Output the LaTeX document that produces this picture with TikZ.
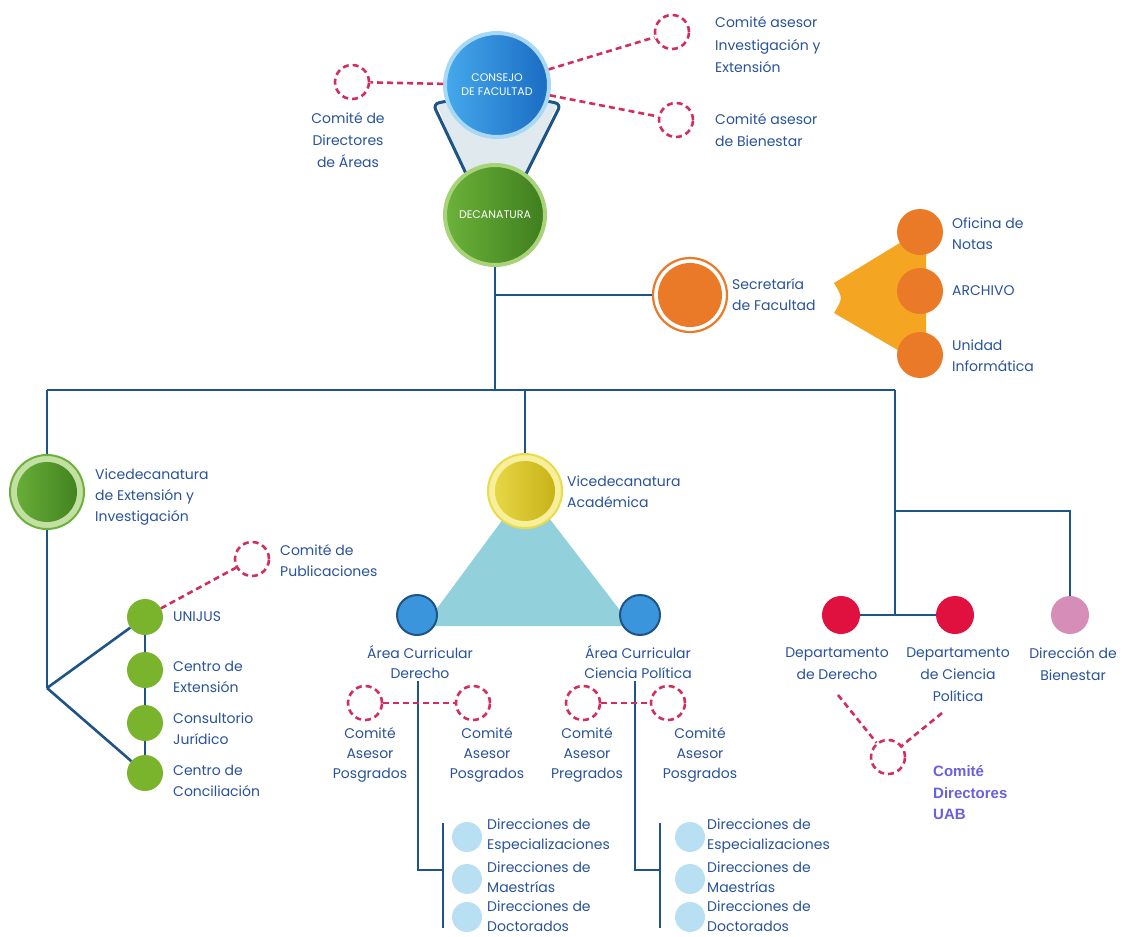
\documentclass[tikz,border=0pt]{standalone}
\usepackage{fontspec}
\setmainfont{Poppins}
\newfontfamily\uabfont{Liberation Sans}
\usetikzlibrary{calc}
\definecolor{lineblue}{HTML}{1E5486}
\definecolor{tblue}{HTML}{28529A}
\definecolor{cred}{HTML}{D12E5E}
\definecolor{cblueL}{HTML}{45A9EC}
\definecolor{cblueD}{HTML}{1A6BC2}
\definecolor{cblueR}{HTML}{A9D8F5}
\definecolor{cgreenL}{HTML}{6CB23A}
\definecolor{cgreenD}{HTML}{3E7E1E}
\definecolor{cgreenR}{HTML}{A8D37A}
\definecolor{corange}{HTML}{EA7A28}
\definecolor{cfan}{HTML}{F4A623}
\definecolor{cyelL}{HTML}{EADB4A}
\definecolor{cyelD}{HTML}{C4AE12}
\definecolor{cyelR}{HTML}{F7EF9C}
\definecolor{careab}{HTML}{3A95DC}
\definecolor{ctri}{HTML}{92D0DB}
\definecolor{cdir}{HTML}{B8DFF2}
\definecolor{cdept}{HTML}{E0103F}
\definecolor{cpink}{HTML}{D68DB8}
\definecolor{csgreen}{HTML}{7AB42D}
\definecolor{cfunnel}{HTML}{DFE9EE}
\definecolor{cuab}{HTML}{6A5FDD}
\begin{document}
\begin{tikzpicture}[x=1pt,y=-1pt,
  conn/.style={draw=lineblue, line width=2.6pt},
  reddash/.style={draw=cred, line width=2.6pt, dash pattern=on 6pt off 4pt},
  dcirc/.style={circle, reddash, minimum size=34pt, inner sep=0pt},
  lbl/.style={text=tblue, font=\fontsize{14}{21}\selectfont, align=left, inner sep=0pt, anchor=west},
  clbl/.style={text=tblue, font=\fontsize{14}{20}\selectfont, align=center, inner sep=0pt},
  dlbl/.style={text=tblue, font=\fontsize{14}{19.5}\selectfont, align=left, inner sep=0pt, anchor=west},
  dot/.style={circle, inner sep=0pt, draw=none},
  bigtext/.style={text=white, font=\fontsize{11}{14}\selectfont, align=center, inner sep=0pt}
]
\useasboundingbox (0,0) rectangle (1122,937);

% ---------- background shapes ----------
\fill[cfunnel] (436,102) -- (558,102) -- (524,182) -- (468,182) -- cycle;
\draw[conn, line width=3pt, rounded corners=6pt] (452,100) -- (433,104) -- (470,182);
\draw[conn, line width=3pt, rounded corners=6pt] (542,100) -- (561,104) -- (522,182);
\fill[cfan] (834,283) -- (908,238) -- (926,236) -- (926,360) -- (908,356) -- (834,313) .. controls (843,298) .. (834,283) -- cycle;
\fill[ctri] (526,488) -- (632,626) -- (424,626) -- cycle;

% ---------- nodes: top ----------
\node[circle, minimum size=104pt, inner sep=0pt, left color=cblueL, right color=cblueD, draw=cblueR, line width=4pt, bigtext] (consejo) at (497,85) {CONSEJO\\DE FACULTAD};
\node[circle, minimum size=100pt, inner sep=0pt, left color=cgreenL, right color=cgreenD, draw=cgreenR, line width=4pt, bigtext] (decan) at (495,215) {DECANATURA};

\node[dcirc] (cdir) at (352,82) {};
\node[dcirc] (cinv) at (672,32) {};
\node[dcirc] (cbien) at (676,120) {};
\node[clbl, font=\fontsize{14}{22}\selectfont] (cdirL) at (348,140) {Comité de\\Directores\\de Áreas};
\node[lbl, font=\fontsize{14}{22.5}\selectfont] (cinvL) at (715,45) {Comité asesor\\Investigación y\\Extensión};
\node[lbl, font=\fontsize{14}{22.5}\selectfont] (cbienL) at (715,130) {Comité asesor\\de Bienestar};

% ---------- secretaria ----------
\node[circle, minimum size=74pt, inner sep=0pt, fill=white, draw=corange, line width=2.2pt,
  path picture={\fill[corange] (path picture bounding box.center) circle (32pt);}] (secr) at (690,295) {};
\node[lbl] (secrL) at (732,295) {Secretaría\\de Facultad};
\node[dot, fill=corange, minimum size=46pt] (ofi) at (920,232) {};
\node[dot, fill=corange, minimum size=46pt] (arch) at (920,291) {};
\node[dot, fill=corange, minimum size=46pt] (unid) at (920,355) {};
\node[lbl] (ofiL) at (952,234) {Oficina de\\Notas};
\node[lbl] (archL) at (952,291) {ARCHIVO};
\node[lbl] (unidL) at (952,356) {Unidad\\Informática};

% ---------- junctions ----------
\coordinate (j0) at (495,390);
\coordinate (jL) at (47,390);
\coordinate (jR) at (895,390);
\coordinate (jB) at (895,511);
\coordinate (jD) at (895,615);

% ---------- vicedecanatura extension ----------
\node[circle, minimum size=74pt, inner sep=0pt, fill=cgreenR!70!white, draw=cgreenL, line width=2pt,
  path picture={\shade[left color=cgreenL, right color=cgreenD] (path picture bounding box.center) circle (30pt);}] (vext) at (47,492) {};
\node[lbl] (vextL) at (95,497) {Vicedecanatura\\de Extensión y\\Investigación};
\coordinate (vx) at (47,688);
\node[dot, fill=csgreen, minimum size=36pt] (unijus) at (145,617) {};
\node[dot, fill=csgreen, minimum size=36pt] (cext) at (145,670) {};
\node[dot, fill=csgreen, minimum size=36pt] (consul) at (145,723) {};
\node[dot, fill=csgreen, minimum size=36pt] (concil) at (145,773) {};
\node[lbl] (unijusL) at (173,617) {UNIJUS};
\node[lbl] (cextL) at (173,677) {Centro de\\Extensión};
\node[lbl] (consulL) at (173,729) {Consultorio\\Jurídico};
\node[lbl] (concilL) at (173,781) {Centro de\\Conciliación};
\node[dcirc] (cpub) at (252,559) {};
\node[lbl] (cpubL) at (280,561) {Comité de\\Publicaciones};

% ---------- vicedecanatura academica ----------
\node[circle, minimum size=74pt, inner sep=0pt, fill=cyelR, draw=cyelL, line width=2pt,
  path picture={\shade[left color=cyelL, right color=cyelD] (path picture bounding box.center) circle (30pt);}] (vacad) at (525,491) {};
\node[lbl] (vacadL) at (567,492) {Vicedecanatura\\Académica};
\node[circle, minimum size=40pt, inner sep=0pt, fill=careab, draw=lineblue, line width=2pt] (aDer) at (417,615) {};
\node[circle, minimum size=40pt, inner sep=0pt, fill=careab, draw=lineblue, line width=2pt] (aCP) at (640,615) {};
\node[clbl] (aDerL) at (420,662) {Área Curricular\\Derecho};
\node[clbl] (aCPL) at (638,662) {Área Curricular\\Ciencia Política};

\node[dcirc] (cD1) at (365,703) {};
\node[dcirc] (cD2) at (473,703) {};
\node[dcirc] (cC1) at (583,703) {};
\node[dcirc] (cC2) at (668,703) {};
\node[clbl] (cD1L) at (370,755) {Comité\\Asesor\\Posgrados};
\node[clbl] (cD2L) at (487,755) {Comité\\Asesor\\Posgrados};
\node[clbl] (cC1L) at (587,755) {Comité\\Asesor\\Pregrados};
\node[clbl] (cC2L) at (700,755) {Comité\\Asesor\\Posgrados};

\coordinate (aDtop) at (418,681);
\coordinate (aDbr) at (443,870);
\coordinate (aDbt) at (443,823);
\coordinate (aDbb) at (443,928);
\coordinate (aCtop) at (635,681);
\coordinate (aCbr) at (660,870);
\coordinate (aCbt) at (660,823);
\coordinate (aCbb) at (660,928);

\node[dot, fill=cdir, minimum size=30pt] (dE1) at (467,837) {};
\node[dot, fill=cdir, minimum size=30pt] (dM1) at (467,879) {};
\node[dot, fill=cdir, minimum size=30pt] (dD1) at (467,917) {};
\node[dot, fill=cdir, minimum size=30pt] (dE2) at (690,837) {};
\node[dot, fill=cdir, minimum size=30pt] (dM2) at (690,879) {};
\node[dot, fill=cdir, minimum size=30pt] (dD2) at (690,917) {};
\node[dlbl] (dE1L) at (487,836) {Direcciones de\\Especializaciones};
\node[dlbl] (dM1L) at (487,877) {Direcciones de\\Maestrías};
\node[dlbl] (dD1L) at (487,916) {Direcciones de\\Doctorados};
\node[dlbl] (dE2L) at (707,836) {Direcciones de\\Especializaciones};
\node[dlbl] (dM2L) at (707,877) {Direcciones de\\Maestrías};
\node[dlbl] (dD2L) at (707,916) {Direcciones de\\Doctorados};

% ---------- departamentos ----------
\node[dot, fill=cdept, minimum size=38pt] (dder) at (841,615) {};
\node[dot, fill=cdept, minimum size=38pt] (dcp) at (955,615) {};
\node[dot, fill=cpink, minimum size=38pt] (dbien) at (1070,615) {};
\node[clbl, font=\fontsize{14}{22}\selectfont] (dderL) at (837,664) {Departamento\\de Derecho};
\node[clbl, font=\fontsize{14}{22}\selectfont] (dcpL) at (958,675) {Departamento\\de Ciencia\\Política};
\node[clbl, font=\fontsize{14}{22}\selectfont] (dbienL) at (1073,664) {Dirección de\\Bienestar};
\node[dcirc] (uab) at (888,757) {};
\coordinate (u1) at (838,695);
\coordinate (u2) at (942,713);
\node[text=cuab, font=\uabfont\fontsize{15}{21.5}\selectfont\bfseries, align=left, inner sep=0pt, anchor=west] (uabL) at (933,793) {Comité\\Directores\\UAB};

% ---------- connectors ----------
\draw[reddash] (consejo) -- (cdir);
\draw[reddash] (consejo) -- (cinv);
\draw[reddash] (consejo) -- (cbien);
\draw[conn] (decan) -- (j0);
\draw[conn] (decan |- secr) -- (secr);
\draw[conn] (jL) -- (jR);
\draw[conn] (jL) -- (vext);
\draw[conn] (vacad |- jL) -- (vacad);
\draw[conn] (jR) -- (jD);
\draw[conn] (jB) -| (dbien);
\draw[conn] (dder) -- (dcp);
\draw[conn] (vext) -- (vx);
\draw[conn] (vx) -- (unijus);
\draw[conn] (vx) -- (concil);
\draw[conn] (unijus) -- (cext);
\draw[conn] (cext) -- (consul);
\draw[conn] (consul) -- (concil);
\draw[reddash] (unijus) -- (cpub);
\draw[conn] (aDtop) |- (aDbr);
\draw[conn] (aDbt) -- (aDbb);
\draw[conn] (aCtop) |- (aCbr);
\draw[conn] (aCbt) -- (aCbb);
\draw[reddash] (cD1) -- (cD2);
\draw[reddash] (cC1) -- (cC2);
\draw[reddash] (u1) -- (uab);
\draw[reddash] (u2) -- (uab);
\end{tikzpicture}
\end{document}
